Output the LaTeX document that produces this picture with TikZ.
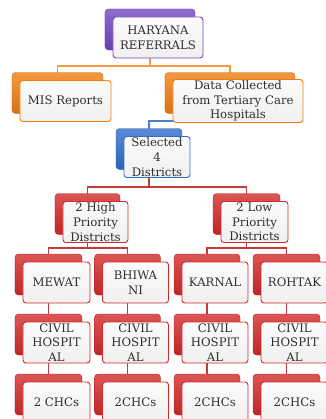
\documentclass[tikz,border=0pt]{standalone}
\usepackage{fontspec}
\setmainfont{DejaVu Serif}
\usetikzlibrary{backgrounds}
\definecolor{purp}{HTML}{7446C4}
\definecolor{orng}{HTML}{F07F12}
\definecolor{blu}{HTML}{2F6FCC}
\definecolor{rd}{HTML}{D42A2A}
\definecolor{orngline}{HTML}{F59A45}
\definecolor{bluline}{HTML}{4A80C4}
\definecolor{rdline}{HTML}{C23B39}
\definecolor{txt}{HTML}{2E2E2E}
\tikzset{
  backbox/.style={rounded corners=3pt, minimum height=1.23cm, inner sep=0pt,
    top color=#1!80!white, middle color=#1, bottom color=#1!90!black,
    draw=#1!80!black, line width=0.3pt},
  frontbox/.style={rounded corners=2.5pt, minimum height=1.23cm, inner sep=1pt,
    draw=#1, line width=0.8pt, top color=white!97!gray, bottom color=gray!12,
    align=center, text=txt, font=\fontsize{10}{12.5}\selectfont},
  orgline/.style={draw=#1, line width=1.6pt},
}
% back box + front box, position is the back box centre (px)
\newcommand{\orgnode}[6]{%
  \node[backbox=#4, minimum width=#5] (#1b) at (#2,#3) {};
  \node[frontbox=#4, minimum width=#5] (#1) at ([shift={(8,8)}]#1b.center) {#6};}
\begin{document}
\begin{tikzpicture}[x=0.03cm, y=-0.03cm, line join=round]
    \useasboundingbox (0,0) rectangle (325,419);
    \orgnode{top}{150}{29.5}{purp}{2.7cm}{HARYANA\\REFERRALS}
    \orgnode{mis}{57.5}{93}{orng}{2.73cm}{MIS Reports}
    \orgnode{data}{230}{93}{orng}{3.9cm}{Data Collected\\from Tertiary Care\\Hospitals}
    \orgnode{sel}{149}{149}{blu}{1.98cm}{Selected\\4\\Districts}
    \orgnode{high}{87.5}{214}{rd}{1.95cm}{2 High\\Priority\\Districts}
    \orgnode{low}{246.5}{214}{rd}{2.01cm}{2 Low\\Priority\\Districts}
    % districts
    \orgnode{mewat}{48.5}{274.5}{rd}{2.01cm}{MEWAT}
    \orgnode{bhiwani}{127.5}{274.5}{rd}{1.98cm}{BHIWA\\NI}
    \orgnode{karnal}{207}{274.5}{rd}{1.98cm}{KARNAL}
    \orgnode{rohtak}{286.5}{274.5}{rd}{2.01cm}{ROHTAK}
    % civil hospitals
    \orgnode{chmewat}{48.5}{334.5}{rd}{2.01cm}{CIVIL\\HOSPIT\\AL}
    \orgnode{chbhiwani}{127.5}{334.5}{rd}{1.98cm}{CIVIL\\HOSPIT\\AL}
    \orgnode{chkarnal}{207}{334.5}{rd}{1.98cm}{CIVIL\\HOSPIT\\AL}
    \orgnode{chrohtak}{286.5}{334.5}{rd}{2.01cm}{CIVIL\\HOSPIT\\AL}
    % chcs
    \orgnode{chcmewat}{48.5}{394.5}{rd}{2.01cm}{2 CHCs}
    \orgnode{chcbhiwani}{127.5}{394.5}{rd}{1.98cm}{2CHCs}
    \orgnode{chckarnal}{207}{394.5}{rd}{1.98cm}{2CHCs}
    \orgnode{chcrohtak}{286.5}{394.5}{rd}{2.01cm}{2CHCs}
    \begin{scope}[on background layer]
        \draw[orgline=orngline] (topb.center)--(topb.center|-0,66)-|(misb.center)
            (topb.center|-0,66)-|(datab.center);
        \draw[orgline=bluline] (datab.center)--(datab.center|-0,121)-|(selb.center);
        \draw[orgline=rdline] (selb.center)--(selb.center|-0,187)-|(highb.center)
            (selb.center|-0,187)-|(lowb.center);
        \draw[orgline=rdline] (highb.center)--(highb.center|-0,248)-|(mewatb.center)
            (highb.center|-0,248)-|(bhiwanib.center);
        \draw[orgline=rdline] (lowb.center)--(lowb.center|-0,248)-|(karnalb.center)
            (lowb.center|-0,248)-|(rohtakb.center);
        \draw[orgline=rdline] (mewatb.center)--(chcmewatb.center)
            (bhiwanib.center)--(chcbhiwanib.center)
            (karnalb.center)--(chckarnalb.center)
            (rohtakb.center)--(chcrohtakb.center);
    \end{scope}
\end{tikzpicture}
\end{document}
